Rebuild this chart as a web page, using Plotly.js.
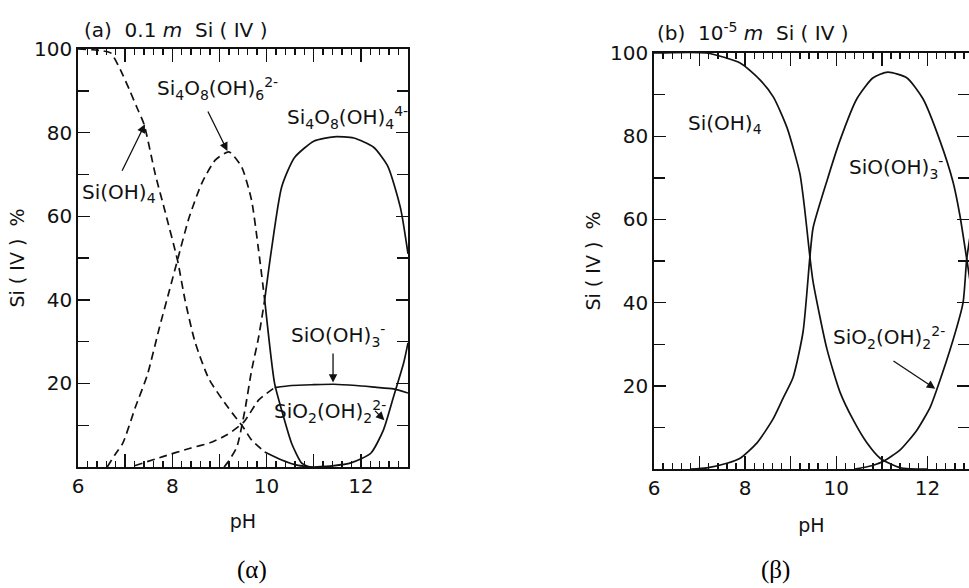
<!DOCTYPE html>
<html>
<head>
<meta charset="utf-8">
<script src="https://cdn.plot.ly/plotly-3.0.1.min.js"></script>
<style>html,body{margin:0;padding:0;background:#fff}#chart{width:969px;height:588px}</style>
</head>
<body>
<div id="chart"></div>
<script>
// ---------- Panel (a): 0.1 m Si(IV) ----------
const a_SiOH4_pH   = [6.0, 6.5, 6.7, 6.9, 7.1, 7.25, 7.4, 7.64, 7.85, 8.11, 8.27, 8.48, 8.78, 9.2, 9.5, 9.68, 9.96, 10.32, 10.67, 11.0];
const a_SiOH4_pct  = [100, 99.6, 99, 95, 90, 86, 82, 70, 61, 49.5, 40, 30, 21, 14, 9.6, 6.5, 3.6, 1.7, 0.4, 0];
const a_SiOH4_split = 9.96;

const a_Si4O6_pH   = [6.62, 6.78, 6.95, 7.22, 7.47, 7.73, 7.94, 8.11, 8.36, 8.63, 8.91, 9.2, 9.47, 9.68, 9.83, 9.96, 10.17, 10.32, 10.53, 10.74, 10.9];
const a_Si4O6_pct  = [0, 2.9, 5.7, 14.4, 22, 33.5, 42.3, 49.5, 59.8, 68, 73.4, 75.4, 71.8, 63.9, 51.9, 40, 20, 13.6, 5.7, 1, 0];
const a_Si4O6_split = 9.96;

const a_Si4O8_pH   = [9.1, 9.2, 9.37, 9.54, 9.68, 9.83, 9.96, 10.1, 10.32, 10.59, 11.01, 11.43, 11.85, 12.27, 12.57, 12.84, 13.0];
const a_Si4O8_pct  = [0, 1.5, 4.8, 13.6, 23, 31, 40, 51.7, 67, 74, 78, 79, 78.7, 76.5, 72, 62, 51];
const a_Si4O8_split = 9.96;

const a_SiO_pH     = [7.2, 7.8, 8.38, 8.8, 9.16, 9.52, 9.83, 10.17, 10.53, 11.0, 11.43, 11.9, 12.3, 12.69, 13.0];
const a_SiO_pct    = [0.3, 2.5, 4.5, 5.8, 7.7, 10.8, 16, 19, 19.5, 19.7, 19.8, 19.5, 19.1, 18.7, 17.7];
const a_SiO_split  = 10.17;

const a_SiO2_pH    = [11.0, 11.4, 11.79, 12.21, 12.48, 12.69, 12.91, 13.0];
const a_SiO2_pct   = [0, 0.3, 1, 3.3, 8.9, 16.7, 25, 29.7];

// ---------- Panel (b): 1e-5 m Si(IV) ----------
const b_SiOH4_pH   = [6.0, 7.15, 7.89, 8.33, 8.62, 8.92, 9.2, 9.3, 9.38, 9.42, 9.49, 9.79, 10.08, 10.37, 10.67, 10.96, 11.4, 12.0];
const b_SiOH4_pct  = [100, 100, 97.6, 93.5, 89.4, 82, 71, 63, 55, 51, 45, 29, 18.5, 11.8, 6.3, 2.6, 0.3, 0];

const b_SiO_pH     = [6.8, 7.16, 7.6, 7.89, 8.26, 8.6, 8.83, 9.05, 9.27, 9.42, 9.49, 9.8, 10.08, 10.45, 10.8, 11.13, 11.55, 11.9, 12.27, 12.56, 12.71, 12.86, 12.95];
const b_SiO_pct    = [0, 0.3, 1.4, 2.6, 6.3, 11.8, 17, 22, 33, 51, 58, 69.5, 79, 89, 94, 95.4, 94, 89, 79, 69, 61, 50.5, 44];

const b_SiO2_pH    = [10.4, 10.7, 11.0, 11.4, 11.77, 12.06, 12.2, 12.56, 12.78, 12.86, 12.95];
const b_SiO2_pct   = [0, 0.6, 1.7, 4.6, 9.4, 14.9, 19, 31, 40, 50.5, 57];

// ---------- Tick labels ----------
const xTickStep      = 1;                        // a tick every pH unit
const xHiddenLabels  = ['7', '9', '11', '13'];   // unit ticks drawn without a label
const yTickStep      = 20;                       // labelled ticks 20 … 100

// ---------- Helpers ----------
const W = 969, H = 588;
const px = v => v / W;
const py = v => 1 - v / H;
const LW = 1.7;

function part(xs, ys, test) {
  const X = [], Y = [];
  xs.forEach((x, i) => { if (test(x)) { X.push(x); Y.push(ys[i]); } });
  return {X, Y};
}
function curve(xs, ys, dash, xa, ya, name) {
  return {type: 'scatter', mode: 'lines', x: xs, y: ys, xaxis: xa, yaxis: ya, name: name,
    line: {color: '#111', width: LW, dash: dash, shape: 'spline', smoothing: 0.6},
    hoverinfo: 'x+y+name', showlegend: false};
}
function splitCurve(xs, ys, split, xa, ya, name) {
  const d = part(xs, ys, x => x <= split);
  const s = part(xs, ys, x => x >= split);
  return [curve(d.X, d.Y, '8px,5px', xa, ya, name), curve(s.X, s.Y, 'solid', xa, ya, name)];
}

const traces = [
  ...splitCurve(a_SiOH4_pH, a_SiOH4_pct, a_SiOH4_split, 'x', 'y', 'Si(OH)4'),
  ...splitCurve(a_Si4O6_pH, a_Si4O6_pct, a_Si4O6_split, 'x', 'y', 'Si4O8(OH)6 2-'),
  ...splitCurve(a_Si4O8_pH, a_Si4O8_pct, a_Si4O8_split, 'x', 'y', 'Si4O8(OH)4 4-'),
  ...splitCurve(a_SiO_pH, a_SiO_pct, a_SiO_split, 'x', 'y', 'SiO(OH)3 -'),
  curve(a_SiO2_pH, a_SiO2_pct, 'solid', 'x', 'y', 'SiO2(OH)2 2-'),
  curve(b_SiOH4_pH, b_SiOH4_pct, 'solid', 'x2', 'y2', 'Si(OH)4'),
  curve(b_SiO_pH, b_SiO_pct, 'solid', 'x2', 'y2', 'SiO(OH)3 -'),
  curve(b_SiO2_pH, b_SiO2_pct, 'solid', 'x2', 'y2', 'SiO2(OH)2 2-')
];

const FONT = 'DejaVu Sans, sans-serif';
const alias = {};
xHiddenLabels.forEach(t => { alias[t] = ' '; });

function xAxis(domain, range, anchor, standoff) {
  return {domain: domain, range: range, anchor: anchor,
    showline: true, linecolor: '#111', linewidth: 1.8, mirror: 'ticks',
    ticks: 'inside', tickmode: 'linear', tick0: 6, dtick: xTickStep, labelalias: alias,
    ticklen: 13, tickwidth: 1.4, tickcolor: '#111',
    minor: {ticks: 'inside', dtick: 0.2, ticklen: 6, tickcolor: '#111'},
    showgrid: false, zeroline: false,
    tickfont: {family: FONT, size: 20, color: '#111'},
    title: {text: 'pH', font: {family: FONT, size: 19, color: '#111'}, standoff: standoff}};
}
function yAxis(domain, anchor) {
  return {domain: domain, range: [0.01, 100], anchor: anchor,
    showline: true, linecolor: '#111', linewidth: 1.8, mirror: 'ticks',
    ticks: 'inside', tickmode: 'linear', tick0: 0, dtick: yTickStep,
    ticklen: 12, tickwidth: 1.4, tickcolor: '#111',
    minor: {ticks: 'inside', dtick: 10, ticklen: 11, tickcolor: '#111'},
    showgrid: false, zeroline: false,
    tickfont: {family: FONT, size: 20, color: '#111'},
    title: {text: 'Si ( IV )  %', font: {family: FONT, size: 19, color: '#111'}, standoff: 4}};
}

const TXT = {family: FONT, size: 20, color: '#111'};
function label(text, x, y, xr, yr) {
  return {text: text, x: x, y: y, xref: xr, yref: yr, showarrow: false, font: TXT, xanchor: 'center', yanchor: 'middle'};
}
function arrow(x, y, ax, ay, xr, yr) {
  return {text: '', x: x, y: y, ax: ax, ay: ay, xref: xr, yref: yr, axref: xr, ayref: yr,
    showarrow: true, arrowhead: 2, arrowsize: 1.3, arrowwidth: 1.3, arrowcolor: '#111'};
}

const annotations = [
  {text: '(a)  0.1 <i>m</i>  Si ( IV )', x: px(82), y: py(30), xref: 'paper', yref: 'paper', xanchor: 'left', yanchor: 'middle', showarrow: false, font: TXT},
  {text: '(b)  10<sup>-5</sup> <i>m</i>  Si ( IV )', x: px(655), y: py(32), xref: 'paper', yref: 'paper', xanchor: 'left', yanchor: 'middle', showarrow: false, font: TXT},
  label('Si<sub>4</sub>O<sub>8</sub>(OH)<sub>6</sub><sup>2-</sup>', 8.95, 90.5, 'x', 'y'),
  arrow(9.17, 75.6, 8.74, 85.4, 'x', 'y'),
  label('Si(OH)<sub>4</sub>', 6.86, 65.5, 'x', 'y'),
  arrow(7.42, 82, 6.92, 70.5, 'x', 'y'),
  label('Si<sub>4</sub>O<sub>8</sub>(OH)<sub>4</sub><sup>4-</sup>', 11.72, 83.5, 'x', 'y'),
  label('SiO(OH)<sub>3</sub><sup>-</sup>', 11.52, 31.5, 'x', 'y'),
  arrow(11.41, 20.2, 11.41, 27.5, 'x', 'y'),
  label('SiO<sub>2</sub>(OH)<sub>2</sub><sup>2-</sup>', 11.35, 13.2, 'x', 'y'),
  arrow(12.5, 11.2, 12.27, 13.8, 'x', 'y'),
  label('Si(OH)<sub>4</sub>', 7.56, 83, 'x2', 'y2'),
  label('SiO(OH)<sub>3</sub><sup>-</sup>', 11.3, 72.5, 'x2', 'y2'),
  label('SiO<sub>2</sub>(OH)<sub>2</sub><sup>2-</sup>', 11.15, 31.5, 'x2', 'y2'),
  arrow(12.17, 19.3, 11.22, 26.2, 'x2', 'y2'),
  {text: '(α)', x: px(252), y: py(570), xref: 'paper', yref: 'paper', showarrow: false, xanchor: 'center', yanchor: 'middle', font: {family: 'Liberation Serif, serif', size: 25, color: '#000'}},
  {text: '(β)', x: px(775), y: py(570), xref: 'paper', yref: 'paper', showarrow: false, xanchor: 'center', yanchor: 'middle', font: {family: 'Liberation Serif, serif', size: 25, color: '#000'}}
];

const layout = {
  width: W, height: H,
  margin: {l: 0, r: 0, t: 0, b: 0},
  paper_bgcolor: '#fff', plot_bgcolor: '#fff',
  showlegend: false,
  xaxis: xAxis([px(78), px(408)], [6, 13], 'y', 18),
  yaxis: yAxis([py(467), py(49)], 'x'),
  xaxis2: xAxis([px(654), px(969)], [6, 12.91], 'y2', 20),
  yaxis2: yAxis([py(469), py(53)], 'x2'),
  annotations: annotations,
  font: {family: FONT, color: '#111'}
};

Plotly.newPlot('chart', traces, layout, {displayModeBar: false, staticPlot: true});
</script>
</body>
</html>
